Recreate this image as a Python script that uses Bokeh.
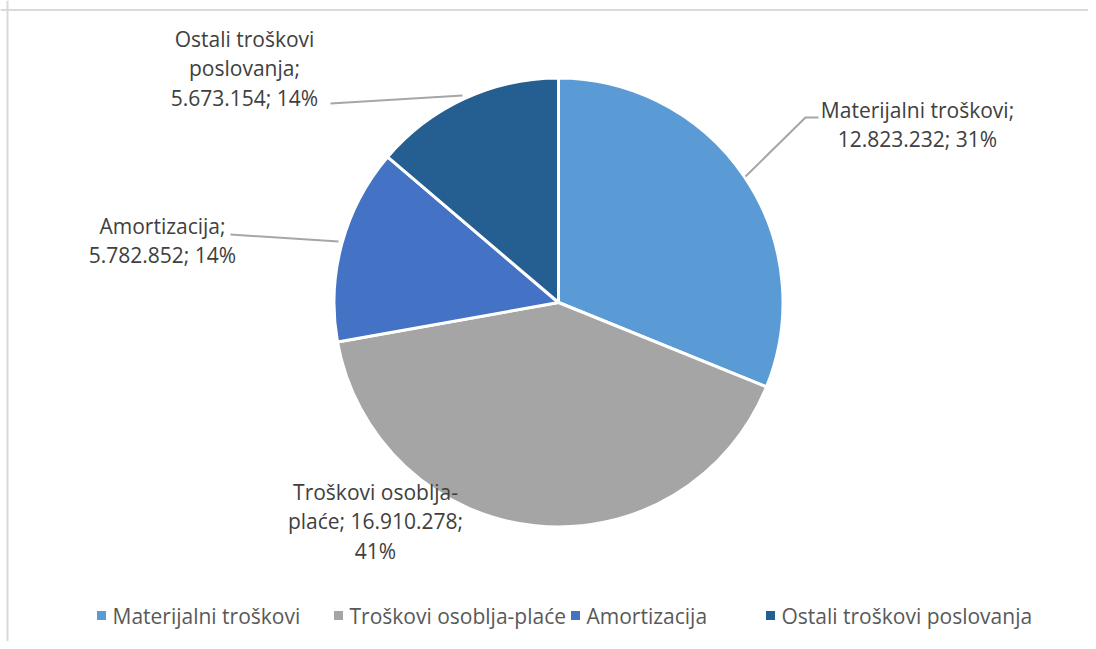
import math
from bokeh.plotting import figure
from bokeh.models import ColumnDataSource, Range1d, Span
from bokeh.core.properties import value
from bokeh.embed import file_html
from bokeh.resources import INLINE

# ---- data ----
categories = ["Materijalni troškovi", "Troškovi osoblja-plaće", "Amortizacija", "Ostali troškovi poslovanja"]
amounts = [12823232, 16910278, 5782852, 5673154]
percent_labels = ["31%", "41%", "14%", "14%"]
amount_labels = ["12.823.232", "16.910.278", "5.782.852", "5.673.154"]
colors = ["#5B9BD5", "#A5A5A5", "#4472C4", "#255E91"]

# ---- layout (pixel units of the frame) ----
W, H = 1088, 641
CX, CY, R = 550, 347, 224.5
FONT = "Open Sans"

p = figure(width=W, height=H, output_backend="svg", toolbar_location=None,
           x_range=Range1d(-8, W - 8), y_range=Range1d(8, H + 8), min_border=0,
           background_fill_color="white", border_fill_color="white")
p.axis.visible = False
p.grid.visible = False
p.outline_line_color = None

# pie wedges (clockwise from top)
total = sum(amounts)
starts, ends = [], []
a = math.pi / 2
for v in amounts:
    starts.append(a)
    a -= 2 * math.pi * v / total
    ends.append(a)
src = ColumnDataSource(dict(start=starts, end=ends, color=colors, cat=categories))
p.wedge(x=CX, y=CY, radius=R, start_angle="start", end_angle="end", direction="clock",
        fill_color="color", line_color="white", line_width=3, source=src)

# data labels
label_texts = [
    f"Materijalni troškovi;\n{amount_labels[0]}; {percent_labels[0]}",
    f"Troškovi osoblja-\nplaće; {amount_labels[1]};\n{percent_labels[1]}",
    f"Amortizacija;\n{amount_labels[2]}; {percent_labels[2]}",
    f"Ostali troškovi\nposlovanja;\n{amount_labels[3]}; {percent_labels[3]}",
]
label_pos = [(909, 525), (367, 128), (154, 409), (236, 581)]
p.text(x=[q[0] for q in label_pos], y=[q[1] for q in label_pos], text=label_texts,
       text_align="center", text_baseline="middle", text_font=value(FONT),
       text_font_size="21px", text_color="#404040", text_line_height=1.05)

# leader lines
leaders = [
    ([737, 797, 810], [473, 532, 532]),
    ([222, 330], [415, 408]),
    ([322, 454], [546, 554]),
]
for xs, ys in leaders:
    p.line(xs, ys, line_color="#A6A6A6", line_width=2)

# legend (manual, Excel-like)
leg_x = [93, 330, 567, 762]
leg_y = 34
p.scatter(x=leg_x, y=[leg_y] * 4, marker="square", size=9, fill_color=colors, line_color=None)
p.text(x=[x + 11 for x in leg_x], y=[leg_y] * 4, text=categories, text_align="left",
       text_baseline="middle", text_font=value(FONT), text_font_size="21px", text_color="#595959")

# chart border (left and top visible)
p.add_layout(Span(location=-1, dimension="height", line_color="#D9D9D9", line_width=2))
p.add_layout(Span(location=639.5, dimension="width", line_color="#D9D9D9", line_width=2))

open("out.html", "w").write(file_html(p, INLINE))
